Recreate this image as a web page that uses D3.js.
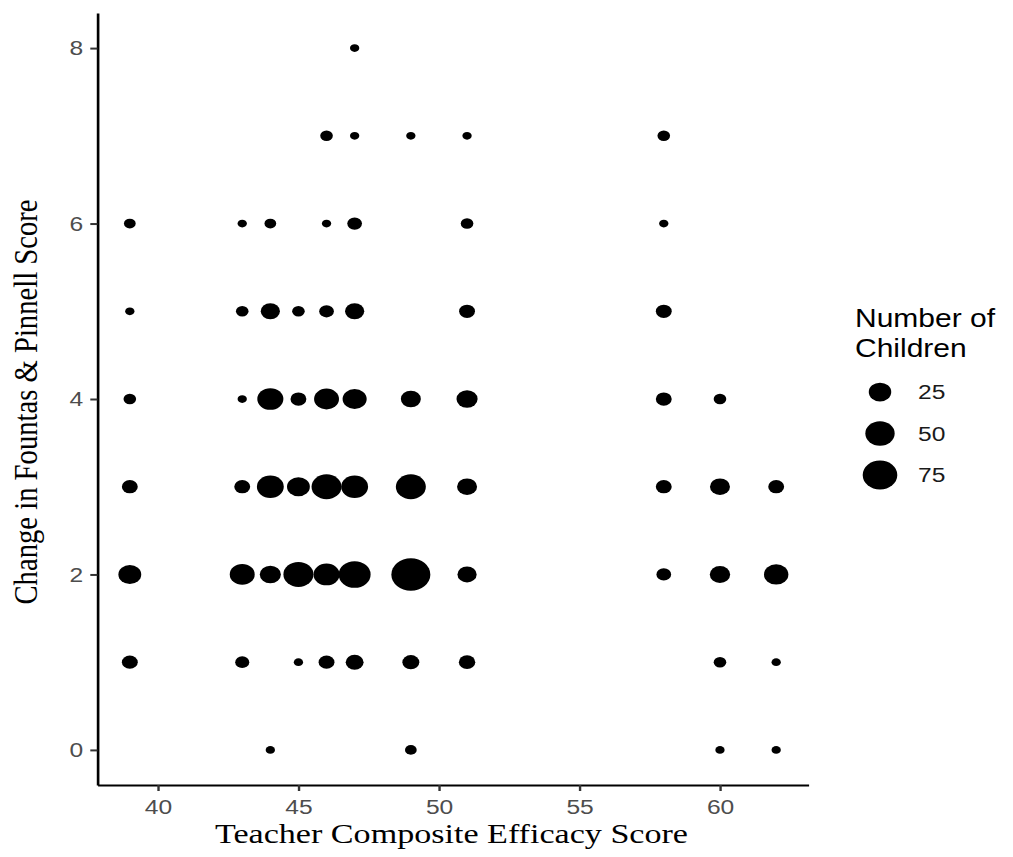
<!DOCTYPE html>
<html>
<head>
<meta charset="utf-8">
<script src="https://cdn.jsdelivr.net/npm/d3@7"></script>
<style>
  body { margin: 0; background: #fff; }
  svg { display: block; }
</style>
</head>
<body>
<svg id="chart" width="1013" height="857"></svg>
<script>
// Teacher composite efficacy score, change in F&P score, and number of children at each pair
const teacherScore = [
  47,
  46, 47, 49, 51, 58,
  39, 43, 44, 46, 47, 51, 58,
  39, 43, 44, 45, 46, 47, 51, 58,
  39, 43, 44, 45, 46, 47, 49, 51, 58, 60,
  39, 43, 44, 45, 46, 47, 49, 51, 58, 60, 62,
  39, 43, 44, 45, 46, 47, 49, 51, 58, 60, 62,
  39, 43, 45, 46, 47, 49, 51, 60, 62,
  44, 49, 60, 62
];
const fpChange = [
  8,
  7, 7, 7, 7, 7,
  6, 6, 6, 6, 6, 6, 6,
  5, 5, 5, 5, 5, 5, 5, 5,
  4, 4, 4, 4, 4, 4, 4, 4, 4, 4,
  3, 3, 3, 3, 3, 3, 3, 3, 3, 3, 3,
  2, 2, 2, 2, 2, 2, 2, 2, 2, 2, 2,
  1, 1, 1, 1, 1, 1, 1, 1, 1,
  0, 0, 0, 0
];
const childCount = [
  1,
  4, 1, 1, 1, 4,
  3, 1, 3, 1, 7, 4, 1,
  1, 4, 16, 4, 7, 16, 9, 9,
  4, 1, 37, 9, 33, 30, 18, 21, 9, 4,
  9, 9, 40, 26, 53, 40, 53, 18, 9, 18, 9,
  26, 33, 21, 53, 37, 62, 100, 16, 7, 19, 31,
  9, 6, 1, 9, 13, 11, 10, 4, 1,
  1, 3, 1, 1
];

const xTicks = [40, 45, 50, 55, 60];
const yTicks = [0, 2, 4, 6, 8];
const legendBreaks = [25, 50, 75];

const xTitle = "Teacher Composite Efficacy Score";
const yTitle = "Change in Fountas & Pinnell Score";
const legendTitle = ["Number of", "Children"];

const points = teacherScore.map((s, i) => ({ score: s, change: fpChange[i], n: childCount[i] }));

// The figure is drawn with a slight horizontal stretch
const SX = 1.2;
const sans = "'Liberation Sans', Arial, sans-serif";
const serif = "'Liberation Serif', 'Times New Roman', serif";

const svg = d3.select("#chart");
svg.append("rect").attr("width", 1013).attr("height", 857).attr("fill", "#fff");
const g = svg.append("g").attr("transform", `scale(${SX},1)`);

const x = d3.scaleLinear().domain([37.85, 63.15]).range([97.5 / SX, 808.5 / SX]);
const y = d3.scaleLinear().domain([-0.4, 8.4]).range([785, 13]);
const r = d3.scaleSqrt().domain([0, 100]).range([2.5, 16.25]);

// Points
g.append("g")
  .selectAll("circle")
  .data(points)
  .join("circle")
  .attr("cx", d => x(d.score))
  .attr("cy", d => y(d.change))
  .attr("r", d => r(d.n))
  .attr("fill", "#000");

function styleAxis(sel) {
  sel.attr("font-family", sans).attr("font-size", 20.5);
  sel.select(".domain").attr("stroke", "#000").attr("stroke-width", 2.2);
  sel.selectAll(".tick line").attr("stroke", "#333").attr("stroke-width", 2);
  sel.selectAll(".tick text").attr("fill", "#4d4d4d");
}

// X axis
g.append("g")
  .attr("transform", `translate(0,${y(-0.4)})`)
  .call(d3.axisBottom(x).tickValues(xTicks).tickSize(6).tickPadding(8).tickSizeOuter(0))
  .call(styleAxis);

// Y axis
g.append("g")
  .attr("transform", `translate(${x(37.85)},0)`)
  .call(d3.axisLeft(y).tickValues(yTicks).tickSize(6).tickPadding(6).tickSizeOuter(0))
  .call(styleAxis);

// Axis titles
g.append("text")
  .attr("x", 451.5 / SX)
  .attr("y", 843)
  .attr("text-anchor", "middle")
  .attr("font-family", serif)
  .attr("font-size", 28)
  .attr("fill", "#000")
  .attr("textLength", 473 / SX)
  .attr("lengthAdjust", "spacingAndGlyphs")
  .text(xTitle);

g.append("text")
  .attr("transform", `translate(${37 / SX},402) rotate(-90)`)
  .attr("text-anchor", "middle")
  .attr("font-family", serif)
  .attr("font-size", 28)
  .attr("fill", "#000")
  .attr("textLength", 405)
  .attr("lengthAdjust", "spacingAndGlyphs")
  .text(yTitle);

// Size legend
const legend = g.append("g").attr("font-family", sans);
legend.append("text")
  .attr("font-size", 25)
  .attr("fill", "#000")
  .selectAll("tspan")
  .data(legendTitle)
  .join("tspan")
  .attr("x", 855 / SX)
  .attr("y", (d, i) => 327 + i * 30)
  .text(d => d);

const ky = d3.scalePoint().domain(legendBreaks).range([392, 475]);
const keys = legend.selectAll("g.key")
  .data(legendBreaks)
  .join("g")
  .attr("class", "key")
  .attr("transform", d => `translate(0,${ky(d)})`);
keys.append("circle")
  .attr("cx", 880 / SX)
  .attr("cy", 0)
  .attr("r", d => r(d))
  .attr("fill", "#000");
keys.append("text")
  .attr("x", 918 / SX)
  .attr("dy", "0.36em")
  .attr("font-size", 20.5)
  .attr("fill", "#1a1a1a")
  .text(d => d);
</script>
</body>
</html>
